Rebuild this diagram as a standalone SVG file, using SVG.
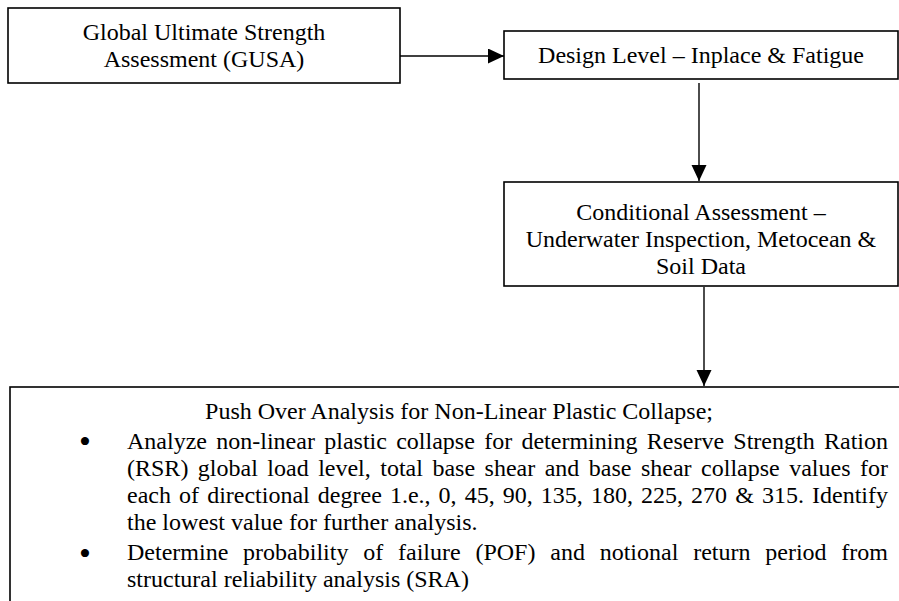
<svg xmlns="http://www.w3.org/2000/svg" width="899" height="601" viewBox="0 0 899 601">
<style>
.box{fill:#fff;stroke:#000;stroke-width:1.6}
.t{font-family:"Liberation Serif","Times New Roman",serif;font-size:24px;fill:#000}
.c{text-anchor:middle}
.b{font-family:"Liberation Serif","Times New Roman",serif;font-size:34px;fill:#000;text-anchor:middle}
.conn{stroke:#000;stroke-width:1.4;fill:none}
</style>
<defs>
<marker id="ah" markerUnits="userSpaceOnUse" markerWidth="18" markerHeight="16" refX="16" refY="7.5" orient="auto">
<path d="M0,0 L16,7.5 L0,15 Z" fill="#000"/>
</marker>
</defs>
<rect width="899" height="601" fill="#fff"/>
<g id="gusa">
<rect class="box" x="8" y="8" width="392" height="75"/>
<text class="t c" x="204" y="40">Global Ultimate Strength</text>
<text class="t c" x="204" y="67">Assessment (GUSA)</text>
</g>
<g id="design">
<rect class="box" x="504" y="31" width="394" height="48"/>
<text class="t c" x="701" y="63">Design Level – Inplace &amp; Fatigue</text>
</g>
<g id="conditional">
<rect class="box" x="504" y="182" width="394" height="104"/>
<text class="t c" x="701" y="220">Conditional Assessment –</text>
<text class="t c" x="701" y="247">Underwater Inspection, Metocean &amp;</text>
<text class="t c" x="701" y="274">Soil Data</text>
</g>
<g id="pushover">
<rect class="box" x="10" y="387" width="900" height="230"/>
<text class="t c" x="459" y="419">Push Over Analysis for Non-Linear Plastic Collapse;</text>
<text class="b" x="85" y="453">•</text>
<text class="t" x="127" y="449" word-spacing="3.3" textLength="761" lengthAdjust="spacing">Analyze non-linear plastic collapse for determining Reserve Strength Ration</text>
<text class="t" x="127" y="476" word-spacing="3.48" textLength="761" lengthAdjust="spacing">(RSR) global load level, total base shear and base shear collapse values for</text>
<text class="t" x="127" y="503" word-spacing="2.08" textLength="761" lengthAdjust="spacing">each of directional degree 1.e., 0, 45, 90, 135, 180, 225, 270 &amp; 315. Identify</text>
<text class="t" x="127" y="530">the lowest value for further analysis.</text>
<text class="b" x="85" y="565">•</text>
<text class="t" x="127" y="560" word-spacing="8.79" textLength="761" lengthAdjust="spacing">Determine probability of failure (POF) and notional return period from</text>
<text class="t" x="127" y="587">structural reliability analysis (SRA)</text>
</g>
<g id="connectors">
<line class="conn" x1="400" y1="56" x2="504" y2="56" marker-end="url(#ah)"/>
<line class="conn" x1="699" y1="83" x2="699" y2="181" marker-end="url(#ah)"/>
<line class="conn" x1="704" y1="287" x2="704" y2="386" marker-end="url(#ah)"/>
</g>
</svg>
